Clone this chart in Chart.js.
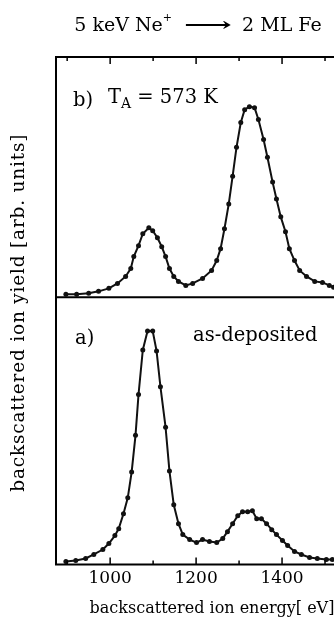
<!DOCTYPE html>
<html lang="en">
<head>
<meta charset="UTF-8">
<title>5 keV Ne+ on 2 ML Fe</title>
<script src="https://cdn.jsdelivr.net/npm/chart.js"></script>
<style>
  html, body { margin: 0; padding: 0; background: #fff; overflow: hidden; }
  #wrap { width: 334px; height: 632px; overflow: hidden; }
</style>
</head>
<body>
<div id="wrap"><canvas id="ionChart" width="396" height="632"></canvas></div>
<script>
// b) annealed at 573 K -- energy [eV] / yield [arb. units]
const energyB = [897, 922, 950, 973, 997, 1017, 1036, 1048, 1055, 1066, 1076,
  1090, 1099, 1110, 1120, 1129, 1138, 1148, 1159, 1176, 1192,
  1215, 1236, 1248, 1257, 1266, 1276, 1285, 1294, 1304, 1313,
  1324, 1336, 1345, 1357, 1366, 1378, 1387, 1397, 1408, 1417,
  1429, 1441, 1457, 1476, 1494, 1510, 1520];
const yieldB = [3, 3, 4, 6, 9, 14, 21, 29, 41, 52, 64,
  70, 67, 60, 51, 41, 29, 21, 16, 12, 14,
  19, 27, 37, 49, 69, 94, 122, 151, 176, 189,
  192, 191, 179, 159, 141, 116, 99, 81, 66, 49,
  37, 27, 21, 16, 15, 12, 10];

// a) as-deposited
const energyA = [897, 920, 943, 962, 983, 997, 1011, 1020, 1031, 1041,
  1050, 1059, 1066, 1076, 1087, 1099, 1108, 1117, 1129, 1138,
  1148, 1159, 1169, 1185, 1201, 1215, 1231, 1248, 1262, 1273,
  1285, 1297, 1308, 1320, 1331, 1341, 1352, 1364, 1376, 1387,
  1401, 1413, 1429, 1445, 1464, 1482, 1503, 1517];
const yieldA = [3, 4, 6, 10, 15, 21, 29, 36, 51, 67,
  93, 130, 171, 216, 235, 235, 215, 179, 138, 94,
  60, 41, 30, 25, 22, 25, 23, 22, 26, 33,
  41, 49, 53, 53, 54, 46, 46, 41, 35, 30,
  24, 19, 13, 10, 7, 6, 5, 5];

// axis setup
const energyMin = 874;
const energyMax = 1600;
const tickLabels = [1000, 1200, 1400];
const majorTicks = [1000, 1200, 1400, 1600];
const minorTicks = [900, 1100, 1300, 1500];
const panelBMax = 242;
const panelAMax = 269;

const serif = 'DejaVu Serif';
const font = size => size + 'px "' + serif + '"';

const toPoints = (xs, ys) => xs.map((x, i) => ({ x: x, y: ys[i] }));

// heading: 5 keV Ne+ --> 2 ML Fe, centred at x = 198
function drawHeading(ctx) {
  const base = 31;
  const arrowLen = 48;
  ctx.font = font(19);
  const w1 = ctx.measureText('5 keV Ne').width;
  const w3 = ctx.measureText('2 ML Fe').width;
  const wArrow = ctx.measureText('\u27F6').width;
  ctx.font = font(11);
  const wPlus = ctx.measureText('+').width;
  const total = w1 + wPlus + 12 + arrowLen + 10 + w3;
  let x = 198 - total / 2;
  ctx.font = font(19);
  ctx.fillText('5 keV Ne', x, base);
  x += w1;
  ctx.font = font(11);
  ctx.fillText('+', x, base - 10);
  x += wPlus + 12;
  ctx.save();
  ctx.font = 'bold ' + font(19);
  ctx.translate(x, base);
  ctx.scale(arrowLen / wArrow, 1);
  ctx.fillText('\u27F6', 0, 0);
  ctx.restore();
  x += arrowLen + 10;
  ctx.font = font(19);
  ctx.fillText('2 ML Fe', x, base);
}

// frame, inward ticks, divider, titles and panel labels
const framePlugin = {
  id: 'frame',
  afterDraw(chart) {
    const ctx = chart.ctx;
    const area = chart.chartArea;
    const xs = chart.scales.x;
    const yA = chart.scales.yA;
    const yB = chart.scales.yB;
    const divider = Math.max(yA.top, yB.top);
    ctx.save();
    ctx.strokeStyle = '#000';
    ctx.lineWidth = 2;
    ctx.beginPath();
    ctx.moveTo(area.right + 10, area.top);
    ctx.lineTo(area.left, area.top);
    ctx.lineTo(area.left, area.bottom);
    ctx.lineTo(area.right + 10, area.bottom);
    ctx.moveTo(area.left, divider);
    ctx.lineTo(area.right + 10, divider);
    ctx.stroke();

    ctx.lineWidth = 1.5;
    const drawTick = (v, len) => {
      const px = xs.getPixelForValue(v);
      ctx.beginPath();
      ctx.moveTo(px, area.top);
      ctx.lineTo(px, area.top + len);
      ctx.moveTo(px, area.bottom);
      ctx.lineTo(px, area.bottom - len);
      ctx.stroke();
    };
    majorTicks.forEach(v => drawTick(v, 7));
    minorTicks.forEach(v => drawTick(v, 4));

    ctx.fillStyle = '#000';
    ctx.textAlign = 'left';
    ctx.textBaseline = 'alphabetic';
    drawHeading(ctx);

    // y axis title
    ctx.font = font(18.5);
    ctx.letterSpacing = '0.8px';
    ctx.textAlign = 'center';
    ctx.textBaseline = 'middle';
    ctx.translate(19, (area.top + area.bottom) / 2 + 2);
    ctx.rotate(-Math.PI / 2);
    ctx.fillText('backscattered ion yield [arb. units]', 0, 0);
    ctx.restore();

    ctx.save();
    ctx.fillStyle = '#000';
    ctx.textBaseline = 'alphabetic';
    ctx.textAlign = 'left';
    ctx.font = font(19.5);
    const bY = yB.getPixelForValue(193);
    ctx.fillText('b)', area.left + 17, bY);
    let tx = area.left + 52;
    ctx.fillText('T', tx, bY - 3);
    tx += ctx.measureText('T').width;
    ctx.font = font(14);
    ctx.fillText('A', tx, bY + 2);
    tx += ctx.measureText('A').width;
    ctx.font = font(19.5);
    ctx.fillText(' = 573 K', tx, bY - 3);

    ctx.fillText('a)', area.left + 19, yA.getPixelForValue(222));
    ctx.fillText('as-deposited', area.left + 137, yA.getPixelForValue(225));
    ctx.restore();
  }
};

const lineStyle = {
  borderColor: '#111',
  backgroundColor: '#111',
  borderWidth: 2,
  pointRadius: 2.5,
  pointBorderWidth: 0,
  pointBackgroundColor: '#111',
  tension: 0,
  fill: false
};

const ctx = document.getElementById('ionChart').getContext('2d');
const chart = new Chart(ctx, {
  type: 'line',
  data: {
    datasets: [
      Object.assign({ label: 'T_A = 573 K', data: toPoints(energyB, yieldB), yAxisID: 'yB' }, lineStyle),
      Object.assign({ label: 'as-deposited', data: toPoints(energyA, yieldA), yAxisID: 'yA' }, lineStyle)
    ]
  },
  options: {
    responsive: false,
    animation: false,
    layout: { padding: { left: 56, right: 28, top: 57, bottom: 0 } },
    plugins: {
      legend: { display: false },
      tooltip: { enabled: false }
    },
    scales: {
      x: {
        type: 'linear',
        position: 'bottom',
        min: energyMin,
        max: energyMax,
        grid: { display: false, drawTicks: false },
        border: { display: false },
        ticks: {
          stepSize: 100,
          includeBounds: false,
          autoSkip: false,
          maxRotation: 0,
          padding: 4,
          color: '#000',
          font: { family: serif, size: 17 },
          callback: v => tickLabels.includes(v) ? String(v) : ''
        },
        title: {
          display: true,
          text: 'backscattered ion energy[ eV]',
          color: '#000',
          font: { family: serif, size: 16 },
          padding: { top: 6, bottom: 14 }
        }
      },
      // bottom panel first: the stack is filled from the bottom up
      yA: {
        type: 'linear',
        position: 'left',
        stack: 'panels',
        stackWeight: panelAMax,
        min: 0,
        max: panelAMax,
        display: false
      },
      yB: {
        type: 'linear',
        position: 'left',
        stack: 'panels',
        stackWeight: panelBMax,
        min: 0,
        max: panelBMax,
        display: false
      }
    }
  },
  plugins: [framePlugin]
});
</script>
</body>
</html>
